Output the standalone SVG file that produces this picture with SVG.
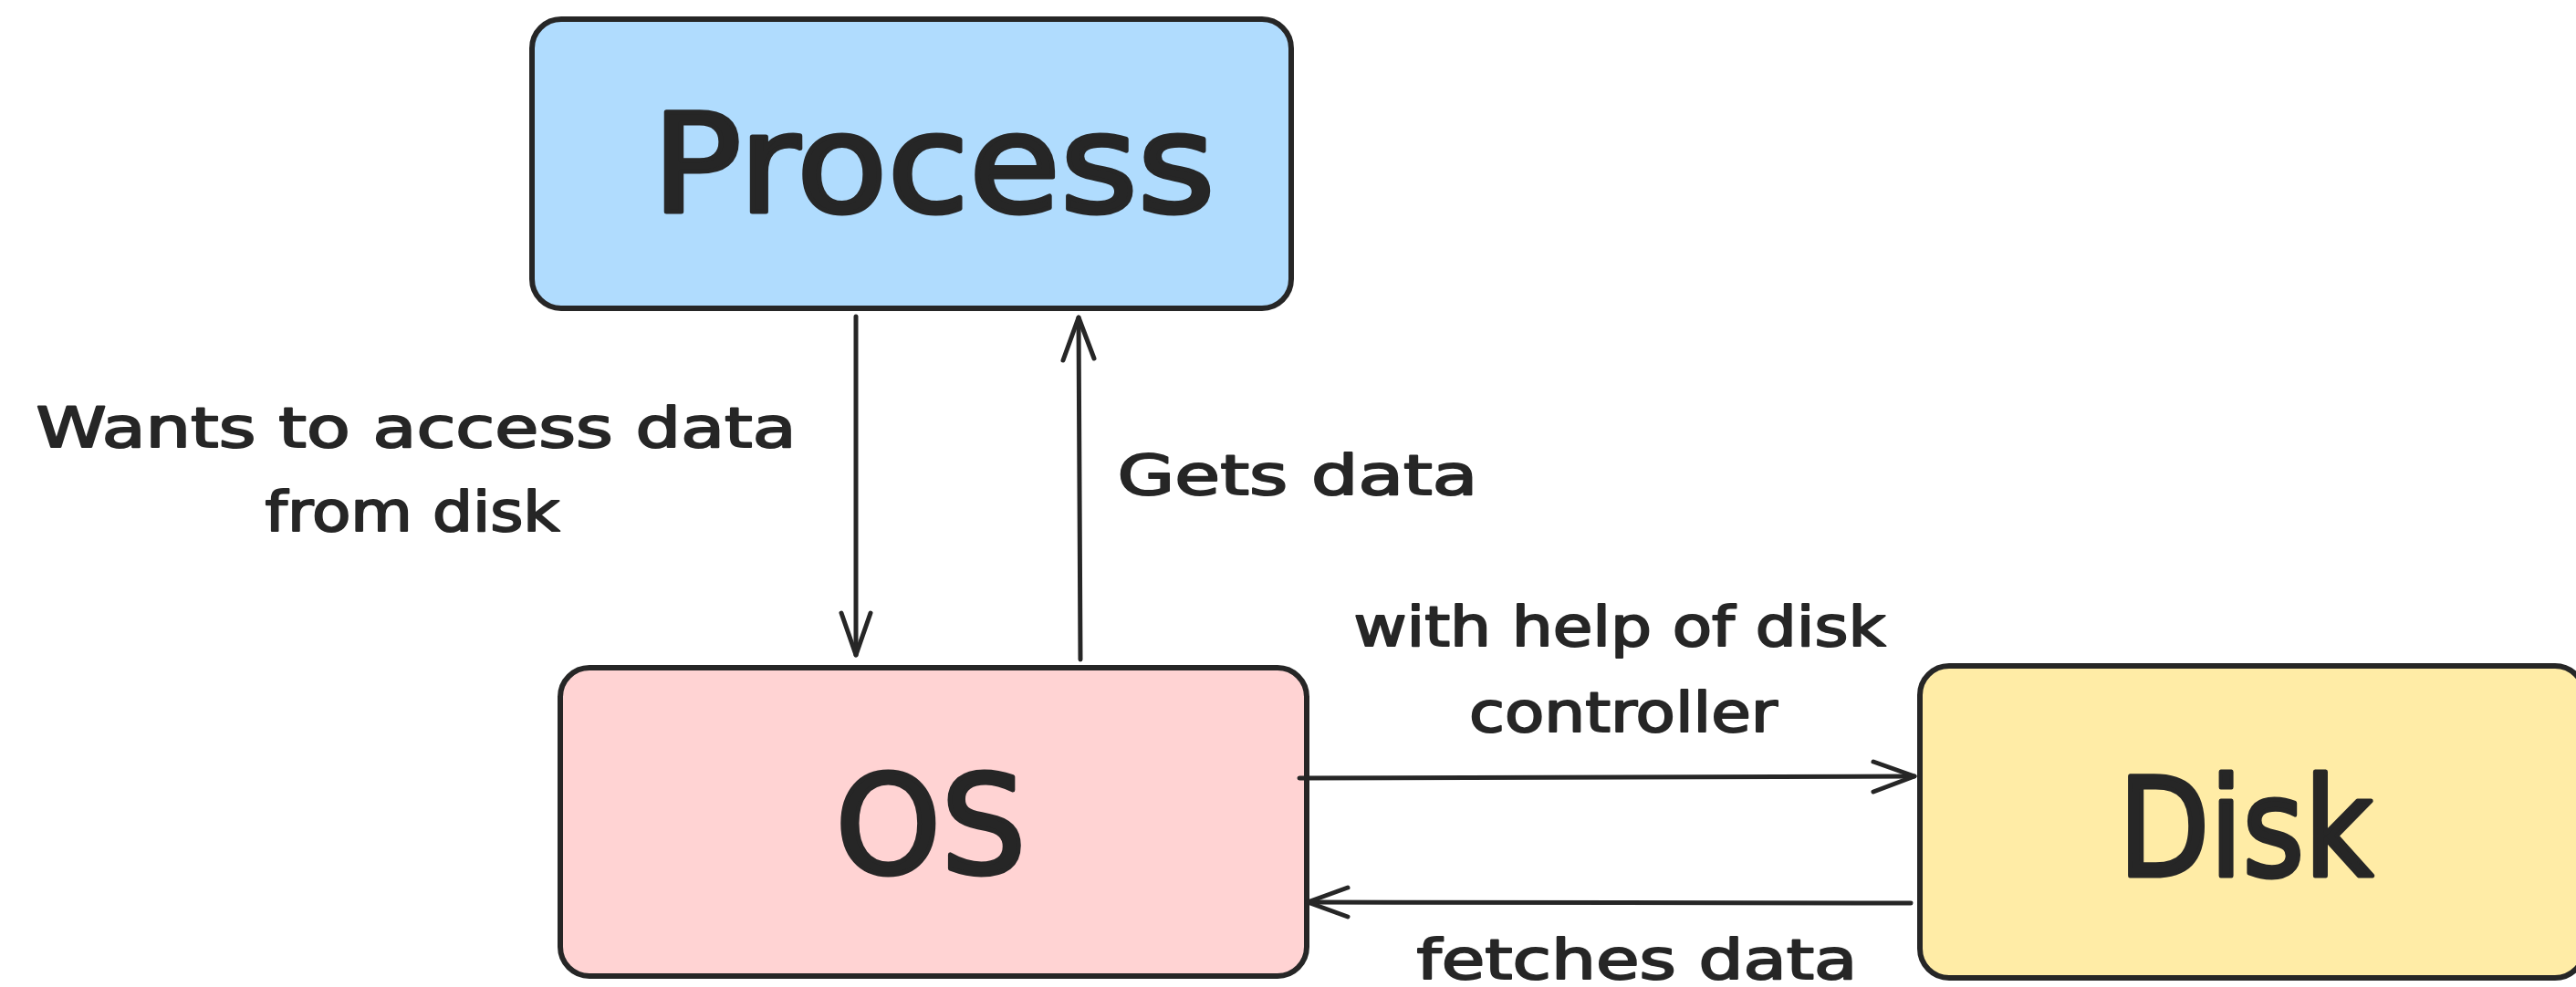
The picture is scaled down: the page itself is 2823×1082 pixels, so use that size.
<svg xmlns="http://www.w3.org/2000/svg" width="2823" height="1082" viewBox="0 0 2823 1082">
<style>
.box{stroke:#262626;stroke-width:6}
.lbl{font-family:"DejaVu Sans","Liberation Sans",sans-serif;fill:#262626;stroke:#262626;stroke-linejoin:round;text-anchor:middle}
.big{font-size:150px;stroke-width:5}
.small{font-size:60px;stroke-width:2}
.conn path{fill:none;stroke:#262626;stroke-width:5;stroke-linecap:round;stroke-linejoin:round}
</style>
<rect width="2823" height="1082" fill="#ffffff"/>
<g id="process">
<rect class="box" x="583" y="21" width="832" height="317" rx="32" fill="#b0dcfe"/>
<text class="lbl big" x="1023" y="232" textLength="617" lengthAdjust="spacingAndGlyphs">Process</text>
</g>
<g id="os">
<rect class="box" x="614" y="732" width="818" height="338" rx="32" fill="#ffd3d3"/>
<text class="lbl big" x="1020" y="957" textLength="209" lengthAdjust="spacingAndGlyphs">OS</text>
</g>
<g id="disk">
<rect class="box" x="2104" y="730" width="728" height="342" rx="32" fill="#ffeca6"/>
<text class="lbl big" x="2461" y="960" textLength="279" lengthAdjust="spacingAndGlyphs">Disk</text>
</g>
<g id="connectors" class="conn">
<g id="c1">
<path d="M938 347 L938 718"/>
<path d="M922 672 L938 718 L954 672"/>
</g>
<g id="c2">
<path d="M1184 723 L1182 348"/>
<path d="M1165 395 L1182 348 L1199 393"/>
</g>
<g id="c3">
<path d="M1424 853 L2098 851"/>
<path d="M2053 835 L2098 851 L2053 868"/>
</g>
<g id="c4">
<path d="M2094 990 L1433 989"/>
<path d="M1477 973 L1433 989 L1477 1005"/>
</g>
</g>
<g id="labels">
<text class="lbl small" x="456" y="490" textLength="833" lengthAdjust="spacingAndGlyphs">Wants to access data</text>
<text class="lbl small" x="452" y="582" textLength="323" lengthAdjust="spacingAndGlyphs">from disk</text>
<text class="lbl small" x="1422" y="542" textLength="395" lengthAdjust="spacingAndGlyphs">Gets data</text>
<text class="lbl small" x="1775" y="708" textLength="583" lengthAdjust="spacingAndGlyphs">with help of disk</text>
<text class="lbl small" x="1779" y="802" textLength="338" lengthAdjust="spacingAndGlyphs">controller</text>
<text class="lbl small" x="1794" y="1073" textLength="483" lengthAdjust="spacingAndGlyphs">fetches data</text>
</g>
</svg>
